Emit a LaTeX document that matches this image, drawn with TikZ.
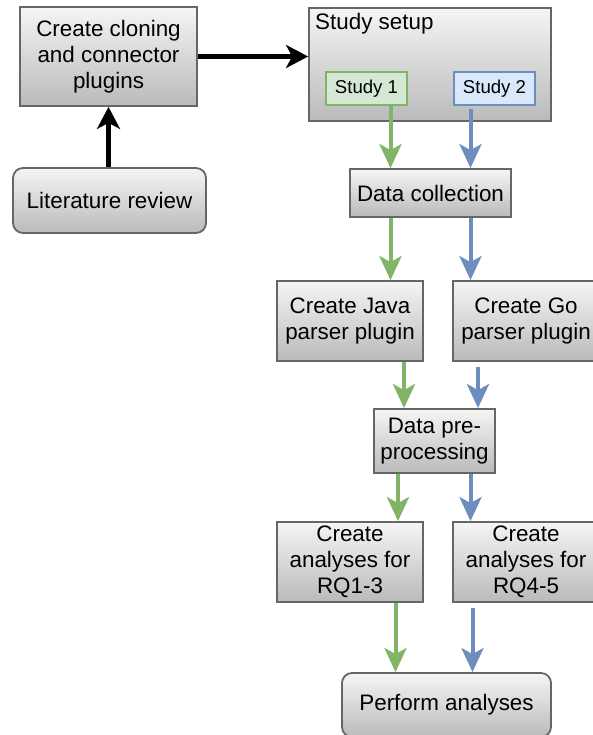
\documentclass[tikz,border=0pt]{standalone}
\usepackage{fontspec}
\setmainfont{Liberation Sans}
\usetikzlibrary{arrows.meta}
\definecolor{bordergray}{HTML}{666666}
\definecolor{gtop}{HTML}{F5F5F5}
\definecolor{gbot}{HTML}{BABABA}
\definecolor{sgreen}{HTML}{82B366}
\definecolor{sgreenfill}{HTML}{D5E8D4}
\definecolor{sblue}{HTML}{6C8EBF}
\definecolor{sbluefill}{HTML}{DAE8FC}
\begin{document}
\begin{tikzpicture}[x=1pt,y=-1pt,
  box/.style={draw=bordergray, line width=1.8pt, top color=gtop, bottom color=gbot,
    align=center, inner sep=0pt, text=black, font=\fontsize{22.4}{26}\selectfont},
  rbox/.style={box, rounded corners=10pt},
  studybox/.style={line width=1.8pt, inner sep=0pt, align=center, font=\fontsize{18.6}{22}\selectfont,
    minimum width=81pt, minimum height=33pt},
  blackarrow/.style={draw=black, line width=4.5pt, -{Stealth[length=22pt,width=23pt,inset=6pt]}},
  garrow/.style={draw=sgreen, line width=4pt, -{Stealth[length=24pt,width=22pt,inset=6pt]}},
  barrow/.style={draw=sblue, line width=4pt, -{Stealth[length=24pt,width=22pt,inset=6pt]}}]
\useasboundingbox (0,0) rectangle (592,735);

% nodes
\node[box, minimum width=177pt, minimum height=99pt] (clone) at (108.5,56.5)
  {Create cloning\\and connector\\plugins};
\node[rbox, minimum width=193pt, minimum height=65pt] (lit) at (109.5,200.5) {Literature review};
\node[box, minimum width=242pt, minimum height=113pt] (setup) at (430,64.5) {};
\node[anchor=north west, inner sep=0pt, font=\fontsize{22.4}{26}\selectfont] (setuplbl) at (315,13) {Study setup};
\node[studybox, draw=sgreen, fill=sgreenfill] (s1) at (366.5,88.5) {Study 1};
\node[studybox, draw=sblue, fill=sbluefill] (s2) at (494.5,88.5) {Study 2};
\node[box, minimum width=161pt, minimum height=48pt] (dc) at (430.5,193) {Data collection};
\node[box, minimum width=146pt, minimum height=80pt] (java) at (350,321) {Create Java\\parser plugin};
\node[box, minimum width=146pt, minimum height=80pt] (go) at (526,321) {Create Go\\parser plugin};
\node[box, minimum width=121pt, minimum height=64pt] (pre) at (434.5,441) {Data pre-\\processing};
\node[box, minimum width=146pt, minimum height=80pt] (rqa) at (350,562) {Create\\analyses for\\RQ1-3};
\node[box, minimum width=146pt, minimum height=80pt] (rqb) at (526,562) {Create\\analyses for\\RQ4-5};
\node[rbox, minimum width=209pt, minimum height=64pt] (perf) at (446.5,705) {Perform analyses};

% x positions of colored connectors
\coordinate (ga) at (390.5,0);
\coordinate (ba) at (470.5,0);
\coordinate (gb) at (404,0);
\coordinate (bb) at (478,0);
\coordinate (gc) at (398,0);
\coordinate (bc) at (470.5,0);
\coordinate (gd) at (395.5,0);
\coordinate (bd) at (472.5,0);
\coordinate (kx) at (108.5,0);

% black connectors
\draw[blackarrow] (lit.north -| kx) -- (clone.south -| kx);
\draw[blackarrow] (clone.east) -- (clone.east -| setup.west);

% colored connectors
\draw[garrow] (s1.south -| ga) -- (dc.north -| ga);
\draw[barrow, shorten <=3pt] (s2.south -| ba) -- (dc.north -| ba);
\draw[garrow] (dc.south -| ga) -- (java.north -| ga);
\draw[barrow] (dc.south -| ba) -- (go.north -| ba);
\draw[garrow] (java.south -| gb) -- (pre.north -| gb);
\draw[barrow, shorten <=5pt] (go.south -| bb) -- (pre.north -| bb);
\draw[garrow] (pre.south -| gc) -- (rqa.north -| gc);
\draw[barrow] (pre.south -| bc) -- (rqb.north -| bc);
\draw[garrow] (rqa.south -| gd) -- (perf.north -| gd);
\draw[barrow, shorten <=5pt] (rqb.south -| bd) -- (perf.north -| bd);
\end{tikzpicture}
\end{document}
